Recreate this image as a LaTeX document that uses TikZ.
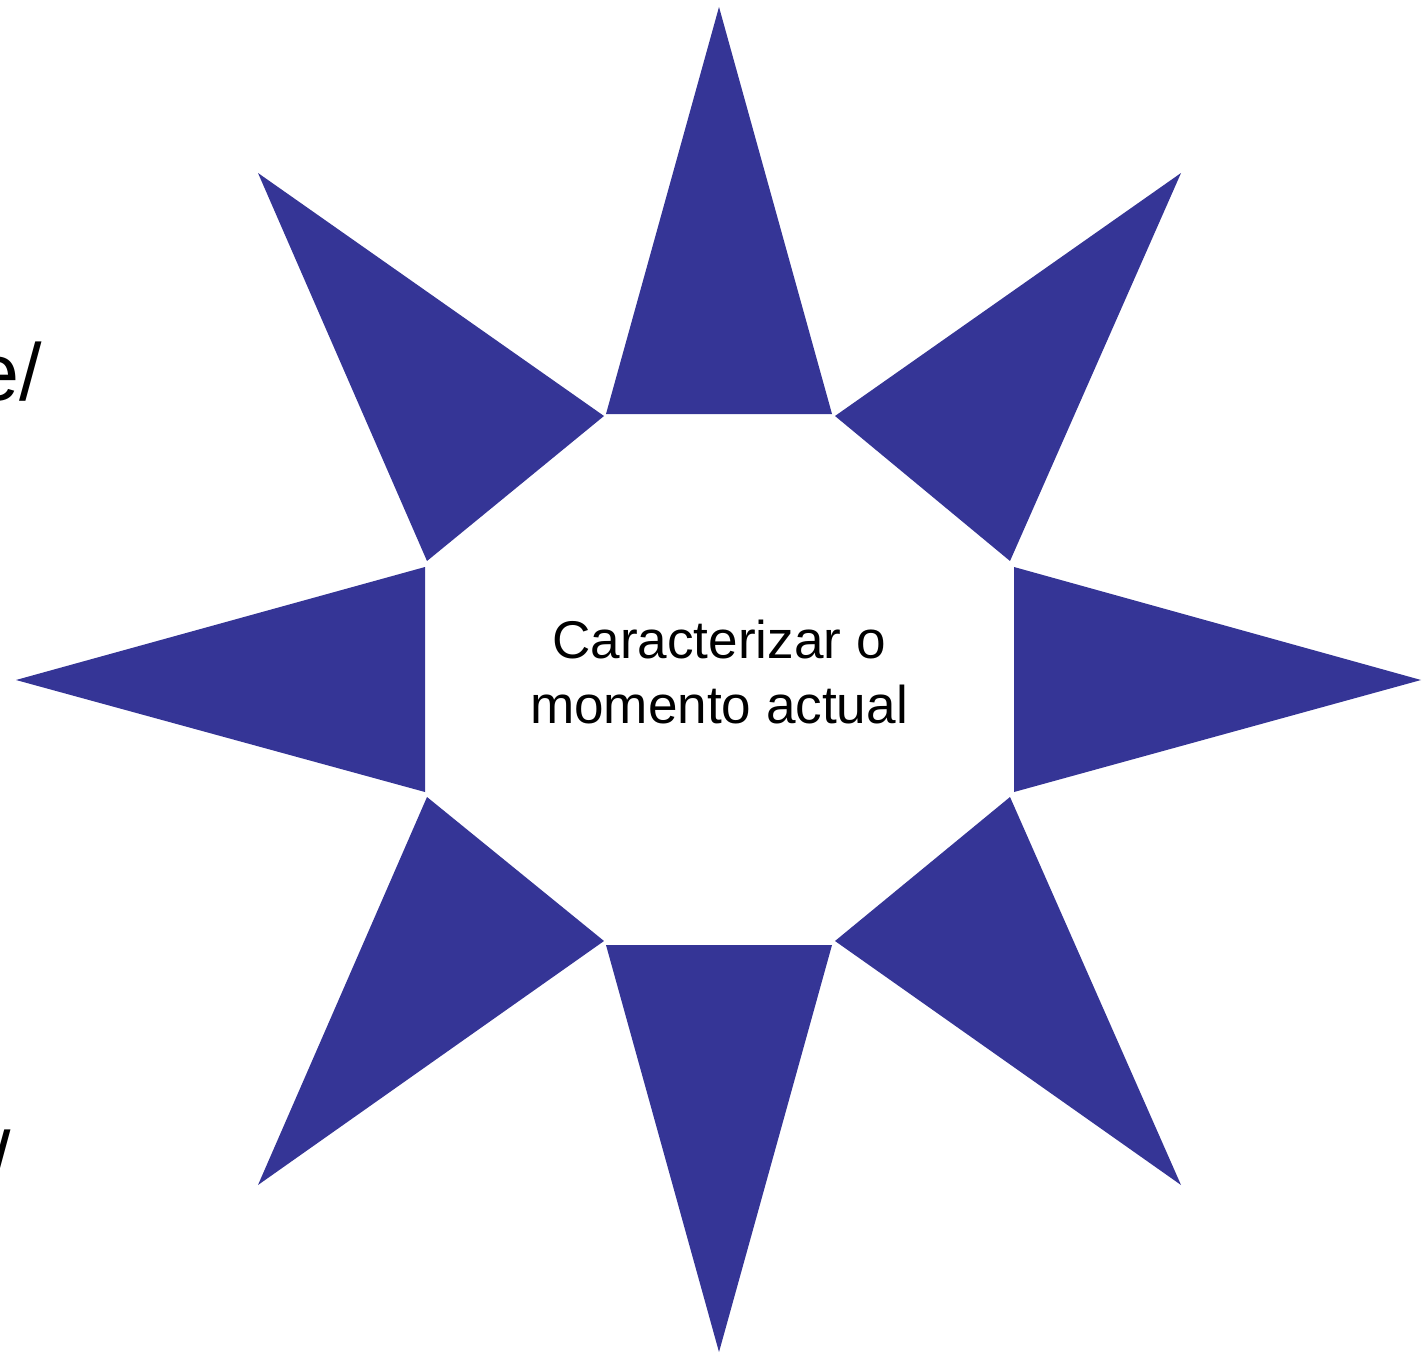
\documentclass[tikz,border=0pt]{standalone}
\usepackage{fontspec}
\setmainfont{Liberation Sans}
\definecolor{starB}{RGB}{53,53,150}

\begin{document}
\begin{tikzpicture}[x=0.01cm,y=-0.01cm]
\useasboundingbox (0,0) rectangle (1425,1352);
% star points
\fill[starB] (719,7)--(832,414)--(606,414)--cycle;
\fill[starB] (1181,173)--(1010,561)--(835,416)--cycle;
\fill[starB] (1421,680)--(1014,792)--(1014,567)--cycle;
\fill[starB] (1181,1185)--(835,941)--(1010,797)--cycle;
\fill[starB] (719,1352)--(606,945)--(832,945)--cycle;
\fill[starB] (258,1185)--(427,797)--(604,941)--cycle;
\fill[starB] (16,680)--(425,567)--(425,792)--cycle;
\fill[starB] (258,173)--(604,416)--(427,561)--cycle;
\node[align=center,font=\fontsize{15.1}{18.4}\selectfont] (centre) at (719,672) {Caracterizar o\\momento actual};
\node[anchor=base east,inner sep=0pt,font=\fontsize{23}{27}\selectfont] (lblA) at (43,400) {e/};
\node[anchor=base east,inner sep=0pt,font=\fontsize{23}{27}\selectfont] (lblB) at (12,1188) {/};
\end{tikzpicture}
\end{document}
